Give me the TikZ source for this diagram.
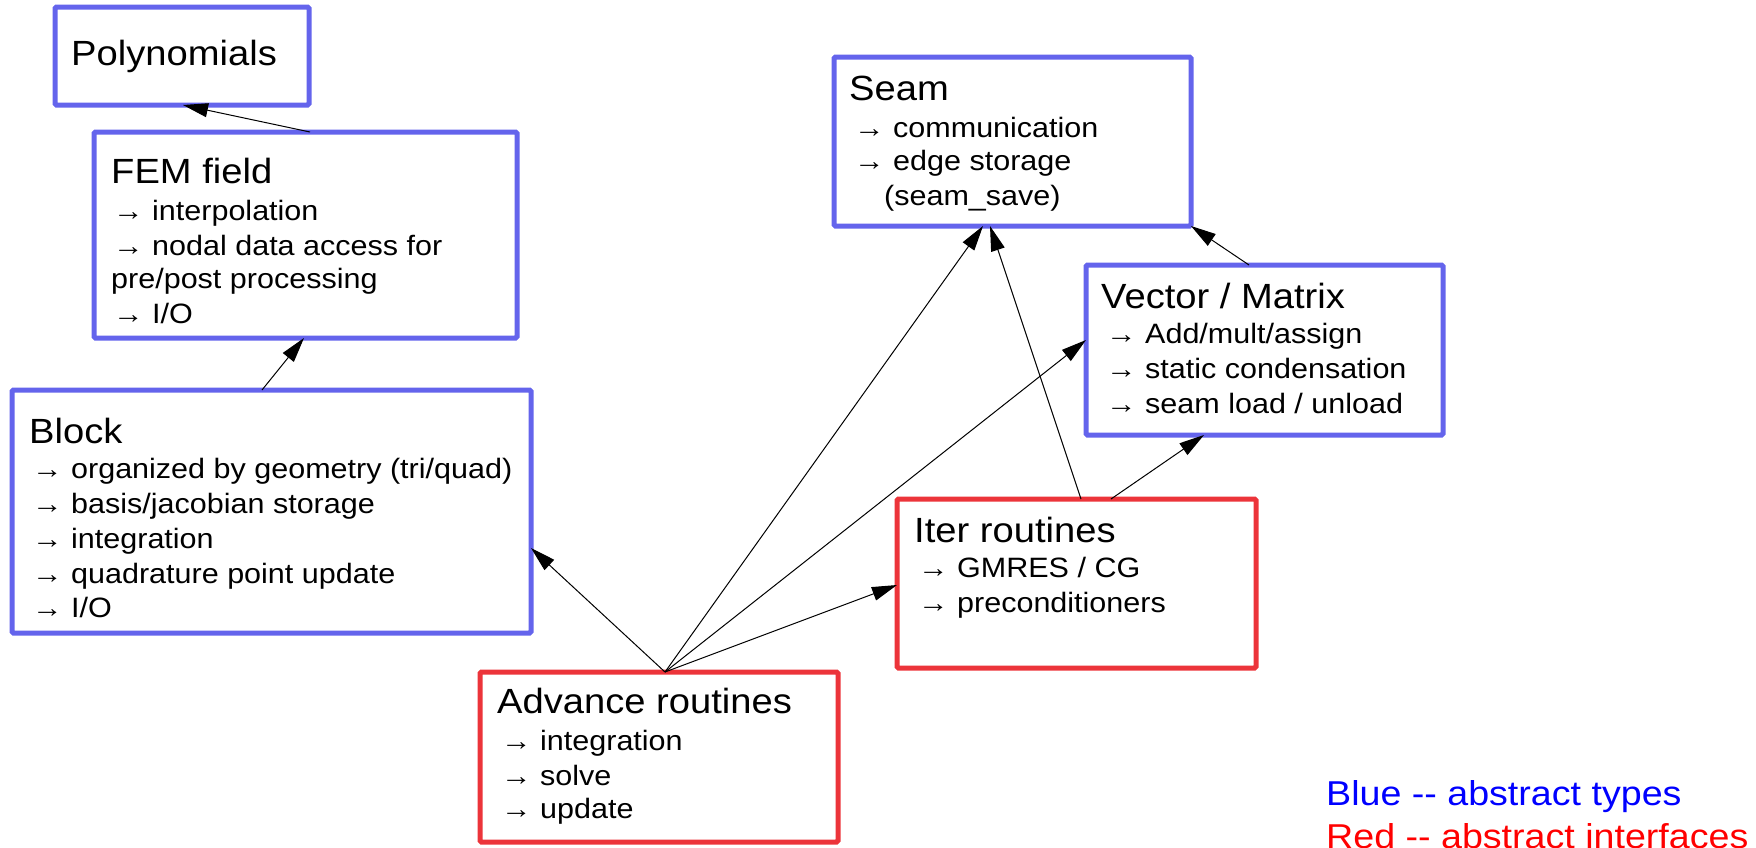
\documentclass[tikz,border=0pt]{standalone}
\usepackage{fontspec}
\setmainfont[FakeStretch=1.09]{Liberation Sans}
\usetikzlibrary{arrows.meta,calc}

\definecolor{typeblue}{RGB}{100,100,236}
\definecolor{ifacered}{RGB}{236,52,58}

\tikzset{
  box/.style={draw, line width=5pt, rounded corners=1.5pt, fill=white,
              inner sep=0pt, outer sep=0pt, anchor=north west},
  typebox/.style={box, draw=typeblue},
  ifacebox/.style={box, draw=ifacered},
  ttl/.style={anchor=base west, inner sep=0pt, font=\fontsize{35}{42}\selectfont},
  itm/.style={anchor=base west, inner sep=0pt, font=\fontsize{28}{34}\selectfont},
  lgd/.style={anchor=base west, inner sep=0pt, font=\fontsize{34.5}{42}\selectfont},
  dep/.style={line width=1pt, -{Triangle[length=25pt, width=14pt]}},
}

\begin{document}
\begin{tikzpicture}[x=1pt, y=-1pt]
\useasboundingbox (0,0) rectangle (1756,847);

% ---- abstract types (blue) ----
\node[typebox, minimum width=254pt, minimum height=98pt] (poly) at (55,7) {};
\node[ttl] (poly-t) at (71,65) {Polynomials};

\node[typebox, minimum width=423pt, minimum height=206pt] (fem) at (94,132) {};
\node[ttl] (fem-t) at (111,183) {FEM field};
\node[itm] (fem-1) at (113,220) {→ interpolation};
\node[itm] (fem-2) at (113,255) {→ nodal data access for};
\node[itm] (fem-3) at (111,288) {pre/post processing};
\node[itm] (fem-4) at (113,323) {→ I/O};

\node[typebox, minimum width=519pt, minimum height=243pt] (block) at (12,390) {};
\node[ttl] (block-t) at (29,443) {Block};
\node[itm] (block-1) at (32,478) {→ organized by geometry (tri/quad)};
\node[itm] (block-2) at (32,513) {→ basis/jacobian storage};
\node[itm] (block-3) at (32,548) {→ integration};
\node[itm] (block-4) at (32,583) {→ quadrature point update};
\node[itm] (block-5) at (32,617) {→ I/O};

\node[typebox, minimum width=357pt, minimum height=169pt] (seam) at (834,57) {};
\node[ttl] (seam-t) at (849,100) {Seam};
\node[itm] (seam-1) at (854,137) {→ communication};
\node[itm] (seam-2) at (854,170) {→ edge storage};
\node[itm] (seam-3) at (884,205) {(seam\_save)};

\node[typebox, minimum width=357pt, minimum height=170pt] (vm) at (1086,265) {};
\node[ttl] (vm-t) at (1101,308) {Vector / Matrix};
\node[itm] (vm-1) at (1106,343) {→ Add/mult/assign};
\node[itm] (vm-2) at (1106,378) {→ static condensation};
\node[itm] (vm-3) at (1106,413) {→ seam load / unload};

% ---- abstract interfaces (red) ----
\node[ifacebox, minimum width=359pt, minimum height=169pt] (iter) at (897,499) {};
\node[ttl] (iter-t) at (914,542) {Iter routines};
\node[itm] (iter-1) at (918,577) {→ GMRES / CG};
\node[itm] (iter-2) at (918,612) {→ preconditioners};

\node[ifacebox, minimum width=358pt, minimum height=170pt] (adv) at (480,672) {};
\node[ttl] (adv-t) at (497,713) {Advance routines};
\node[itm] (adv-1) at (501,750) {→ integration};
\node[itm] (adv-2) at (501,785) {→ solve};
\node[itm] (adv-3) at (501,818) {→ update};

% ---- dependencies ----
\draw[dep] ($(fem.north west)+(216,0)$) -- ($(poly.south west)+(128,0)$);
\draw[dep] ($(block.north west)+(250,0)$) -- ($(fem.south west)+(210,0)$);
\draw[dep] ($(adv.north west)+(185,0)$) -- ($(block.north east)+(0,158)$);
\draw[dep] ($(adv.north west)+(185,0)$) -- ($(seam.south west)+(149,0)$);
\draw[dep] ($(adv.north west)+(185,0)$) -- ($(vm.north west)+(0,75)$);
\draw[dep] ($(adv.north west)+(185,0)$) -- ($(iter.north west)+(0,86)$);
\draw[dep] ($(iter.north west)+(184,0)$) -- ($(seam.south west)+(156,0)$);
\draw[dep] ($(iter.north west)+(214,0)$) -- ($(vm.south west)+(118,0)$);
\draw[dep] ($(vm.north west)+(163,0)$) -- (seam.south east);

% ---- legend ----
\node[lgd, text=blue] (lg-blue) at (1326,805) {Blue {-}{-} abstract types};
\node[lgd, text=red] (lg-red) at (1326,848) {Red {-}{-} abstract interfaces};
\end{tikzpicture}
\end{document}
